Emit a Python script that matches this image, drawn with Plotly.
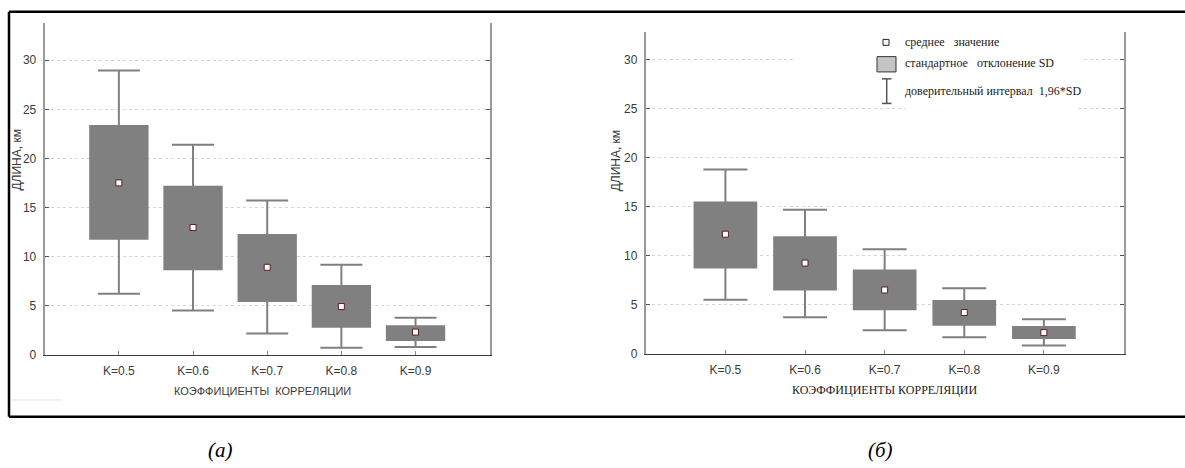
import plotly.graph_objects as go
import numpy as np

W, H = 1185, 468

# ---------------- data ----------------
categories = ["K=0.5", "K=0.6", "K=0.7", "K=0.8", "K=0.9"]

# panel (а)
mean_a = [17.5, 12.95, 8.9, 4.9, 2.3]
sd_hi_a = [23.4, 17.2, 12.3, 7.1, 3.0]
sd_lo_a = [11.7, 8.6, 5.35, 2.75, 1.4]
ci_hi_a = [28.95, 21.4, 15.7, 9.15, 3.75]
ci_lo_a = [6.2, 4.5, 2.15, 0.7, 0.77]

# panel (б)
mean_b = [12.2, 9.25, 6.5, 4.2, 2.15]
sd_hi_b = [15.55, 12.0, 8.6, 5.47, 2.82]
sd_lo_b = [8.7, 6.45, 4.43, 2.85, 1.5]
ci_hi_b = [18.8, 14.7, 10.67, 6.68, 3.52]
ci_lo_b = [5.5, 3.72, 2.38, 1.68, 0.84]

y_ticks = [0, 5, 10, 15, 20, 25, 30]

legend_labels = ["среднее   значение", "стандартное   отклонение SD",
                 "доверительный интервал  1,96*SD"]
y_title = "ДЛИНА, км"
x_title_a = "КОЭФФИЦИЕНТЫ  КОРРЕЛЯЦИИ"
x_title_b = "КОЭФФИЦИЕНТЫ КОРРЕЛЯЦИИ"
captions = ["(а)", "(б)"]

# ---------------- helpers ----------------
def px(x):
    return x / W

def py(y):
    return 1 - y / H

SANS = "Liberation Sans Narrow, Arial Narrow, Liberation Sans, Arial"
SERIF = "Liberation Serif, Times New Roman, serif"
BOX = "#808080"

fig = go.Figure()

def add_panel(xa, ya, mean, sd_hi, sd_lo, ci_hi, ci_lo, capw):
    mean = np.array(mean); sd_hi = np.array(sd_hi); sd_lo = np.array(sd_lo)
    ci_hi = np.array(ci_hi); ci_lo = np.array(ci_lo)
    fig.add_trace(go.Bar(x=categories, y=sd_hi - sd_lo, base=sd_lo, width=0.8,
                         marker=dict(color=BOX, line=dict(width=0)),
                         xaxis=xa, yaxis=ya, showlegend=False, hoverinfo="skip"))
    fig.add_trace(go.Scatter(x=categories, y=mean, mode="markers",
                             marker=dict(size=1, opacity=0),
                             error_y=dict(type="data", symmetric=False,
                                          array=ci_hi - mean, arrayminus=mean - ci_lo,
                                          color=BOX, thickness=2, width=capw),
                             xaxis=xa, yaxis=ya, showlegend=False, hoverinfo="skip"))
    fig.add_trace(go.Scatter(x=categories, y=mean, mode="markers",
                             marker=dict(symbol="square", size=6, color="white",
                                         line=dict(color="#5a2020", width=1)),
                             xaxis=xa, yaxis=ya, showlegend=False))

add_panel("x", "y", mean_a, sd_hi_a, sd_lo_a, ci_hi_a, ci_lo_a, 21)
add_panel("x2", "y2", mean_b, sd_hi_b, sd_lo_b, ci_hi_b, ci_lo_b, 22)

xcommon = dict(type="category", range=[-1, 5], showline=True, linecolor="#3a3a3a",
               linewidth=1, ticks="inside", ticklen=4, tickcolor="#888",
               showgrid=False, zeroline=False, ticklabelstandoff=5,
               tickfont=dict(family=SANS, size=12, color="#3a3a3a"))
ycommon = dict(tickvals=y_ticks, showline=True, linecolor="#9a9a9a", linewidth=2,
               mirror="ticks", ticks="inside", ticklen=4, tickcolor="#555",
               showgrid=True, gridcolor="#d6d6d6", griddash="dot", gridwidth=1,
               zeroline=False, ticklabelstandoff=4,
               tickfont=dict(family=SANS, size=12, color="#3a3a3a"))

fig.update_layout(
    width=W, height=H, margin=dict(l=0, r=0, t=0, b=0),
    paper_bgcolor="white", plot_bgcolor="white", showlegend=False,
    barmode="overlay",
    xaxis=dict(xcommon, domain=[px(44.7), px(489.7)], anchor="y"),
    yaxis=dict(ycommon, domain=[py(360), py(23.3)], range=[0, 33.8], anchor="x"),
    xaxis2=dict(xcommon, domain=[px(645.8), px(1123.5)], anchor="y2"),
    yaxis2=dict(ycommon, domain=[py(359), py(32)], range=[0, 32.9], anchor="x2"),
)

shapes = []
# white masks hiding gridlines behind the legend (panel б)
shapes.append(dict(type="rect", xref="x2", yref="y2", x0=0.85, x1=4.47, y0=29.3, y1=30.7,
                   fillcolor="white", line=dict(width=0), layer="between"))
shapes.append(dict(type="rect", xref="x2", yref="y2", x0=2.26, x1=4.42, y0=24.3, y1=25.7,
                   fillcolor="white", line=dict(width=0), layer="between"))
# outer frame (top, left, bottom)
for (x0, y0, x1, y1) in [(9, 12, 1190, 12), (9, 423, 1190, 423), (9, 12, 9, 423)]:
    shapes.append(dict(type="line", xref="paper", yref="paper",
                       x0=px(x0), y0=py(y0), x1=px(x1), y1=py(y1),
                       line=dict(color="black", width=2.5)))
# faint artifact line bottom-left
shapes.append(dict(type="line", xref="paper", yref="paper",
                   x0=px(12), y0=py(406), x1=px(62), y1=py(406),
                   line=dict(color="#dfe3ea", width=1)))
# legend symbols
shapes.append(dict(type="rect", xref="paper", yref="paper",
                   x0=px(883), x1=px(889), y0=py(46), y1=py(40),
                   fillcolor="white", line=dict(color="#222", width=1)))
shapes.append(dict(type="rect", xref="paper", yref="paper",
                   x0=px(877), x1=px(896), y0=py(73), y1=py(57.5),
                   fillcolor="#c4c4c4", line=dict(color="#333", width=1)))
shapes.append(dict(type="line", xref="paper", yref="paper",
                   x0=px(886.7), x1=px(886.7), y0=py(80), y1=py(105),
                   line=dict(color="#555", width=1.5)))
for yy in (80, 105):
    shapes.append(dict(type="line", xref="paper", yref="paper",
                       x0=px(882), x1=px(891.5), y0=py(yy), y1=py(yy),
                       line=dict(color="#555", width=1.5)))
fig.update_layout(shapes=shapes)

ann = []
for txt, yy in zip(legend_labels, [42.7, 64, 92]):
    ann.append(dict(text=txt, x=px(903), y=py(yy), xref="paper", yref="paper",
                    xanchor="left", yanchor="middle", showarrow=False,
                    font=dict(family=SERIF, size=12, color="#222")))
ann.append(dict(text=y_title, x=px(17), y=py(163), xref="paper", yref="paper",
                textangle=-90, showarrow=False, xanchor="center", yanchor="middle",
                font=dict(family=SANS, size=12, color="#3a3a3a")))
ann.append(dict(text=y_title, x=px(615.8), y=py(163), xref="paper", yref="paper",
                textangle=-90, showarrow=False, xanchor="center", yanchor="middle",
                font=dict(family=SANS, size=12, color="#3a3a3a")))
ann.append(dict(text=x_title_a, x=px(262), y=py(397), xref="paper", yref="paper",
                showarrow=False, xanchor="center", yanchor="middle",
                font=dict(family=SANS, size=11, color="#3a3a3a")))
ann.append(dict(text=x_title_b, x=px(884), y=py(396), xref="paper", yref="paper",
                showarrow=False, xanchor="center", yanchor="middle",
                font=dict(family=SERIF, size=12, color="#222")))
for txt, xx in zip(captions, [220, 880]):
    ann.append(dict(text="<i>" + txt + "</i>", x=px(xx), y=py(457), xref="paper", yref="paper",
                    showarrow=False, xanchor="center", yanchor="middle",
                    font=dict(family=SERIF, size=21, color="black")))
fig.update_layout(annotations=ann)

fig.write_html("out.html")
